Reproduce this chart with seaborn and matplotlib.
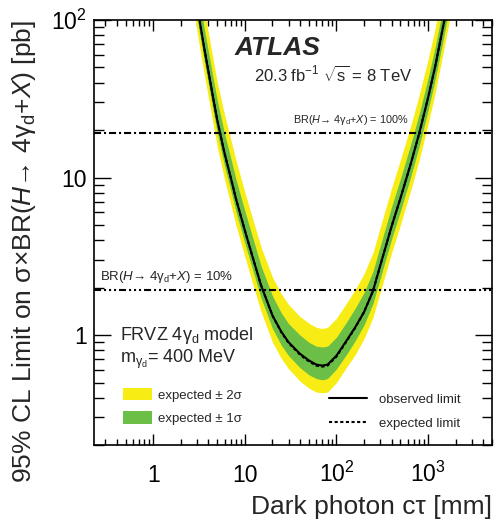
import numpy as np
import matplotlib
matplotlib.use("Agg")
import matplotlib.pyplot as plt
import seaborn as sns
from matplotlib.patches import Patch
from matplotlib.lines import Line2D
from matplotlib.ticker import LogLocator, NullFormatter

# dark photon decay length [mm]
ctau = [2.6, 2.8, 3.0, 3.2, 3.6, 4, 4.5, 5, 6, 7, 8, 10, 12, 15, 20, 25, 30, 40, 50,
        60, 70, 80, 100, 130, 160, 200, 250, 300, 400, 500, 650, 800, 1000, 1200,
        1500, 1700, 1900]

# 95% CL limits [pb]
observed = [209, 160, 125, 99, 66, 47, 32, 23, 14.2, 10.0, 7.3, 4.6, 3.2, 2.07, 1.33,
            1.05, 0.90, 0.76, 0.69, 0.65, 0.64, 0.65, 0.74, 0.93, 1.12, 1.40, 1.9,
            2.75, 4.9, 7.4, 12.3, 19.0, 32, 51, 98, 142, 200]
expected = [209, 160, 125, 99, 66, 47, 32, 23, 14.2, 10.0, 7.3, 4.6, 3.2, 2.07, 1.33,
            1.04, 0.89, 0.75, 0.68, 0.64, 0.63, 0.64, 0.73, 0.92, 1.11, 1.40, 1.9,
            2.75, 4.9, 7.4, 12.3, 19.0, 32, 51, 98, 142, 200]
exp_plus2 = [366, 280, 219, 173, 116, 82, 56, 40, 24.9, 17.5, 12.8, 8.05, 5.6, 3.62,
             2.33, 1.82, 1.56, 1.31, 1.19, 1.12, 1.10, 1.12, 1.28, 1.61, 1.94, 2.45,
             3.33, 4.81, 8.58, 12.95, 21.5, 33.3, 56, 89, 172, 249, 350]
exp_plus1 = [278, 213, 166, 132, 88, 62.5, 42.5, 30.6, 18.9, 13.3, 9.7, 6.12, 4.26,
             2.75, 1.77, 1.38, 1.18, 1.0, 0.90, 0.85, 0.84, 0.85, 0.97, 1.22, 1.48,
             1.86, 2.53, 3.66, 6.52, 9.84, 16.4, 25.3, 42.6, 67.8, 130, 189, 266]
exp_minus1 = [173, 133, 104, 82, 55, 39, 26.5, 19.1, 11.8, 8.3, 6.06, 3.82, 2.66, 1.72,
              1.10, 0.86, 0.74, 0.62, 0.56, 0.53, 0.52, 0.53, 0.61, 0.76, 0.92, 1.16,
              1.58, 2.28, 4.07, 6.14, 10.2, 15.8, 26.6, 42.3, 81, 118, 166]
exp_minus2 = [142, 109, 85, 67, 45, 32, 21.8, 15.6, 9.7, 6.8, 4.96, 3.13, 2.18, 1.41,
              0.90, 0.71, 0.61, 0.51, 0.46, 0.435, 0.43, 0.435, 0.50, 0.63, 0.75, 0.95,
              1.29, 1.87, 3.33, 5.03, 8.36, 12.9, 21.8, 34.7, 67, 97, 136]

# SM Higgs cross section times BR
br_100 = 19.2
br_10 = 1.92

yellow = "#F7EC13"
green = "#6BBF47"

sns.set_theme(style="ticks")
plt.rcParams["font.family"] = ["Liberation Sans", "DejaVu Sans"]
plt.rcParams["mathtext.fontset"] = "custom"
plt.rcParams["mathtext.rm"] = "Liberation Sans"
plt.rcParams["mathtext.it"] = "Liberation Sans:italic"
plt.rcParams["mathtext.bf"] = "Liberation Sans:bold"
plt.rcParams["axes.edgecolor"] = "black"

fig = plt.figure(figsize=(4.95, 5.25), dpi=100)
ax = fig.add_axes([0.19, 0.152, 0.804, 0.81])

ax.fill_between(ctau, exp_minus2, exp_plus2, color=yellow, lw=0)
ax.fill_between(ctau, exp_minus1, exp_plus1, color=green, lw=0)
sns.lineplot(x=ctau, y=expected, ax=ax, color="black", lw=1.5, linestyle=(0, (1.5, 1.2)))
sns.lineplot(x=ctau, y=observed, ax=ax, color="black", lw=1.5)

ax.axhline(br_100, color="black", lw=1.5, linestyle=(0, (3.4, 1.4, 1, 1.4)))
ax.axhline(br_10, color="black", lw=1.5, linestyle=(0, (3.4, 1.4, 1, 1.4, 1, 1.4, 1, 1.4)))

ax.set_xscale("log")
ax.set_yscale("log")
ax.set_xlim(0.225, 5000)
ax.set_ylim(0.2, 100)

ax.set_xticks([1, 10, 100, 1000], labels=["1", "10", "$10^2$", "$10^3$"])
ax.set_yticks([1, 10, 100], labels=["1", "10", "$10^2$"])
ax.xaxis.set_minor_locator(LogLocator(base=10, subs=np.arange(2, 10), numticks=30))
ax.yaxis.set_minor_locator(LogLocator(base=10, subs=np.arange(2, 10), numticks=30))
ax.xaxis.set_minor_formatter(NullFormatter())
ax.yaxis.set_minor_formatter(NullFormatter())

ax.tick_params(which="both", direction="in", top=True, right=True, colors="black", width=1)
ax.tick_params(axis="x", which="major", length=8, pad=26.5, labelsize=16.5)
ax.tick_params(axis="x", which="minor", length=4)
ax.tick_params(axis="y", which="major", length=12, pad=5, labelsize=16.5)
ax.tick_params(axis="y", which="minor", length=7)
for lbl in ax.get_xticklabels():
    lbl.set_verticalalignment("baseline")
for s in ax.spines.values():
    s.set_linewidth(1.2)

br_text = r"BR($H$→ 4γ$_{\mathrm{d}}$+$X$)"

ax.set_xlabel("Dark photon cτ [mm]", fontsize=19, loc="right")
ax.xaxis.set_label_coords(1.0, -0.117)
ax.set_ylabel("95% CL Limit on σ×" + br_text + " [pb]", fontsize=19, loc="top")
ax.yaxis.set_label_coords(-0.141, 1.0)

ax.text(0.354, 0.918, "ATLAS", transform=ax.transAxes, fontsize=19,
        fontweight="bold", fontstyle="italic", va="baseline")
ax.text(0.402, 0.854, r"20.3 fb$^{-1}$ $\sqrt{\mathrm{s}}$ = 8 TeV", transform=ax.transAxes,
        fontsize=12, va="baseline")
ax.text(0.50, 0.758, br_text + " = 100%", transform=ax.transAxes, fontsize=7.8,
        va="baseline")
ax.text(0.015, 0.388, br_text + " = 10%", transform=ax.transAxes, fontsize=9.5,
        va="baseline")
ax.text(0.065, 0.247, r"FRVZ 4γ$_{\mathrm{d}}$ model", transform=ax.transAxes,
        fontsize=13, va="baseline")
ax.text(0.065, 0.193, r"m$_{\mathrm{\gamma}_{\mathrm{d}}}$= 400 MeV", transform=ax.transAxes,
        fontsize=13, va="baseline")

band_handles = [Patch(facecolor=yellow, edgecolor="none", label="expected ± 2σ"),
                Patch(facecolor=green, edgecolor="none", label="expected ± 1σ")]
leg1 = ax.legend(handles=band_handles, loc="upper left", bbox_to_anchor=(0.073, 0.135),
                 frameon=False, fontsize=9.5, handlelength=2.2, handleheight=1.1,
                 labelspacing=0.72, handletextpad=0.45, borderpad=0, borderaxespad=0)
ax.add_artist(leg1)
line_handles = [Line2D([], [], color="black", lw=1.5, label="observed limit"),
                Line2D([], [], color="black", lw=1.5, linestyle=(0, (1.5, 1.2)),
                       label="expected limit")]
ax.legend(handles=line_handles, loc="upper left", bbox_to_anchor=(0.59, 0.122),
          frameon=False, fontsize=9.5, handlelength=2.9, labelspacing=0.89,
          handletextpad=0.9, borderpad=0, borderaxespad=0)

fig.savefig("out.png", dpi=100)
